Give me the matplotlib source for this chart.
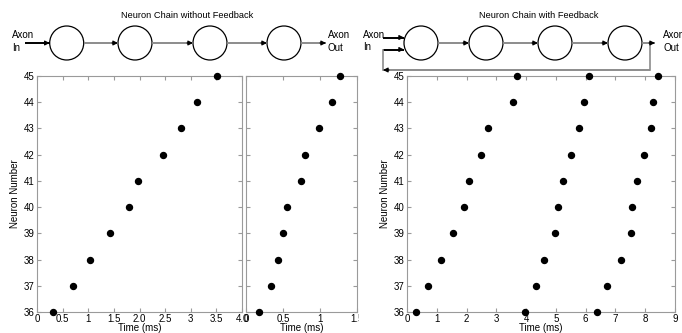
import matplotlib
matplotlib.use("Agg")
import matplotlib.pyplot as plt
from matplotlib.patches import Circle
from matplotlib.transforms import Bbox

plt.rcParams['font.family'] = ['Liberation Sans', 'DejaVu Sans']
plt.rcParams['font.size'] = 7

# neuron index 36..45
neurons = [36, 37, 38, 39, 40, 41, 42, 43, 44, 45]

# spike times (ms)
t_no_fb_a = [0.32, 0.71, 1.03, 1.42, 1.80, 1.98, 2.45, 2.80, 3.13, 3.51]
t_no_fb_b = [0.18, 0.34, 0.43, 0.50, 0.56, 0.745, 0.80, 0.99, 1.16, 1.27]
t_fb_1 = [0.29, 0.69, 1.13, 1.55, 1.92, 2.09, 2.48, 2.73, 3.55, 3.69]
t_fb_2 = [3.96, 4.33, 4.59, 4.98, 5.08, 5.23, 5.51, 5.76, 5.93, 6.11]
t_fb_3 = [6.38, 6.71, 7.19, 7.52, 7.56, 7.74, 7.96, 8.21, 8.27, 8.43]

ticks_a = [0, 0.5, 1, 1.5, 2.0, 2.5, 3, 3.5, 4.0]
ticklabels_a = ['0', '0.5', '1', '1.5', '2.0', '2.5', '3', '3.5', '4.0']
ticks_b = [0, 0.5, 1, 1.5]
ticklabels_b = ['0', '0.5', '1', '1.5']
ticks_c = list(range(10))

W, H = 682, 333
fig = plt.figure(figsize=(W / 100, H / 100), dpi=100)


def px_axes(x0, y0, x1, y1):
    return fig.add_axes([x0 / W, (H - y1) / H, (x1 - x0) / W, (y1 - y0) / H])


def style(ax):
    for s in ax.spines.values():
        s.set_color('#9a9a9a')
        s.set_linewidth(0.8)
    ax.tick_params(direction='in', top=True, right=True, length=3,
                   color='#9a9a9a', labelsize=7, pad=1.5)
    ax.set_ylim(36, 45)
    ax.set_yticks(neurons)


ax1 = px_axes(37, 76, 242, 312)
ax2 = px_axes(246, 76, 357, 312)
ax3 = px_axes(407, 76, 675, 312)

mk = dict(ls='none', marker='o', ms=4.3, color='black', clip_on=False, zorder=5)

ax1.plot(t_no_fb_a, neurons, **mk)
style(ax1)
ax1.set_xlim(0, 4)
ax1.set_xticks(ticks_a)
ax1.set_xticklabels(ticklabels_a)
ax1.set_ylabel('Neuron Number', labelpad=3)
ax1.set_xlabel('Time (ms)', labelpad=-0.6)

ax2.plot(t_no_fb_b, neurons, **mk)
style(ax2)
ax2.set_xlim(0, 1.5)
ax2.set_xticks(ticks_b)
ax2.set_xticklabels(ticklabels_b)
ax2.tick_params(labelleft=False)
ax2.set_xlabel('Time (ms)', labelpad=-0.6)
clip = Bbox.from_extents(0, 0, 359, H)
for lab in ax2.get_xticklabels():
    lab.set_clip_on(True)
    lab.set_clip_box(clip)

for t in (t_fb_1, t_fb_2, t_fb_3):
    ax3.plot(t, neurons, **mk)
style(ax3)
ax3.set_xlim(0, 9)
ax3.set_xticks(ticks_c)
ax3.set_ylabel('Neuron Number', labelpad=3)
ax3.set_xlabel('Time (ms)', labelpad=-0.6)

# diagrams drawn on a full-figure overlay in pixel coordinates
d = fig.add_axes([0, 0, 1, 1], zorder=-1)
d.set_xlim(0, W)
d.set_ylim(H, 0)
d.axis('off')

GREY = '#8c8c8c'
R = 17
CY = 43


def head(x1, y1, dx):
    # short black arrowhead ending at (x1, y1), pointing along dx
    d.annotate('', xy=(x1, y1), xytext=(x1 - dx, y1),
               arrowprops=dict(arrowstyle='-|>', color='black', lw=0.8,
                               mutation_scale=7, shrinkA=0, shrinkB=0))


def link(x0, y0, x1, y1, color=GREY):
    d.plot([x0, x1], [y0, y1], color=color, lw=1.4, solid_capstyle='butt')
    head(x1, y1, 6 if x1 > x0 else -6)


def chain(centers):
    for cx in centers:
        d.add_patch(Circle((cx, CY), R, fill=False, ec='black', lw=0.9))
    for a, b in zip(centers[:-1], centers[1:]):
        link(a + R, CY, b - R, CY)


# left: without feedback
left_c = [66.7, 135, 210, 284]
chain(left_c)
d.text(187, 15, 'Neuron Chain without Feedback', ha='center', va='center', fontsize=6.7)
link(25, CY, left_c[0] - R, CY, color='black')
d.text(12, 35, 'Axon', ha='left', va='center')
d.text(12, 48, 'In', ha='left', va='center')
link(left_c[-1] + R, CY, 326, CY)
d.text(328, 35, 'Axon', ha='left', va='center')
d.text(328, 48, 'Out', ha='left', va='center')

# right: with feedback
right_c = [421, 486, 555, 625]
chain(right_c)
d.text(539, 15, 'Neuron Chain with Feedback', ha='center', va='center', fontsize=6.7)
d.text(363, 35, 'Axon', ha='left', va='center')
d.text(363, 47, 'In', ha='left', va='center')
link(383, 37.5, right_c[0] - R, 37.5, color='black')
link(383, 49.5, right_c[0] - R, 49.5, color='black')
link(right_c[-1] + R, CY, 655, CY)
d.text(663, 35, 'Axon', ha='left', va='center')
d.text(663, 48, 'Out', ha='left', va='center')
d.plot([650, 650], [CY, 70], color=GREY, lw=1.2)
link(650, 70, 383, 70)
d.plot([383, 383], [70, 49.5], color=GREY, lw=1.2)

fig.savefig('out.png', dpi=100)
